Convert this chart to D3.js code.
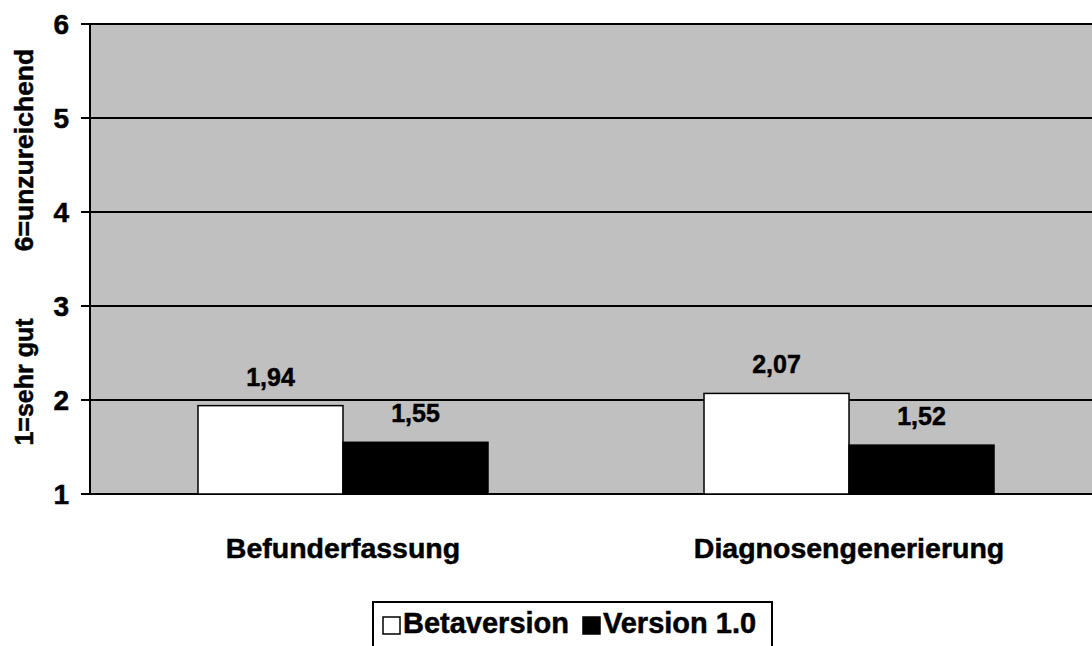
<!DOCTYPE html>
<html><head><meta charset="utf-8">
<script src="https://cdn.jsdelivr.net/npm/d3@7"></script>
<style>body{margin:0;background:#fff}svg{display:block;font-family:Arial,"Liberation Sans",sans-serif;font-weight:bold}
svg text{stroke:#000;stroke-width:0.5px;fill:#000}</style>
</head><body>
<script>
const categories = ["Befunderfassung", "Diagnosengenerierung"];
const seriesNames = ["Betaversion", "Version 1.0"];
const betaValues = [1.94, 2.07];
const v10Values = [1.55, 1.52];
const yTicks = [1, 2, 3, 4, 5, 6];
const valueLabels = [["1,94", "1,55"], ["2,07", "1,52"]];

const W = 1092, H = 646;
const svg = d3.select("body").append("svg").attr("width", W).attr("height", H);

const y = d3.scaleLinear().domain([1, 6]).range([494, 24]);
const x0 = d3.scaleBand().domain(categories).range([90, 1102]).paddingInner(0.4269).paddingOuter(0.2134);
const x1 = d3.scaleBand().domain(seriesNames).range([0, x0.bandwidth()]);
const fills = ["#ffffff", "#000000"];

// plot background
svg.append("rect").attr("x", 90).attr("y", y(6)).attr("width", 1102 - 90).attr("height", y(1) - y(6)).attr("fill", "#c0c0c0");

// gridlines + ticks
yTicks.forEach(t => {
  svg.append("line").attr("x1", 81).attr("x2", 1102).attr("y1", y(t)).attr("y2", y(t)).attr("stroke", "#000").attr("stroke-width", 2);
  svg.append("text").attr("x", 69).attr("y", y(t)).attr("dy", "0.36em").attr("text-anchor", "end").style("font-size", "28px").text(t);
});
svg.append("line").attr("x1", 90).attr("x2", 90).attr("y1", y(6) - 1).attr("y2", y(1) + 1).attr("stroke", "#000").attr("stroke-width", 2);

// bars
const data = categories.map((c, i) => ({c, vals: [betaValues[i], v10Values[i]], labels: valueLabels[i]}));
const g = svg.selectAll("g.cat").data(data).enter().append("g").attr("transform", d => `translate(${x0(d.c)},0)`);
g.each(function(d) {
  const sel = d3.select(this);
  d.vals.forEach((v, j) => {
    sel.append("rect").attr("x", x1(seriesNames[j])).attr("y", y(v)).attr("width", x1.bandwidth()).attr("height", y(1) - y(v))
      .attr("fill", fills[j]).attr("stroke", "#000").attr("stroke-width", 1.5);
    sel.append("text").attr("x", x1(seriesNames[j]) + x1.bandwidth() / 2).attr("y", y(v) - 20)
      .attr("text-anchor", "middle").style("font-size", "25px").text(d.labels[j]);
  });
  sel.append("text").attr("x", x0.bandwidth() / 2).attr("y", 558).attr("text-anchor", "middle").style("font-size", "28.5px").text(d.c);
});

// y titles
svg.append("text").attr("transform", "translate(33,150) rotate(-90)").attr("text-anchor", "middle").style("font-size", "26.5px").text("6=unzureichend");
svg.append("text").attr("transform", "translate(33,382) rotate(-90)").attr("text-anchor", "middle").style("font-size", "25px").text("1=sehr gut");

// legend
const leg = svg.append("g");
leg.append("rect").attr("x", 373).attr("y", 602).attr("width", 399).attr("height", 50).attr("fill", "#fff").attr("stroke", "#000").attr("stroke-width", 2);
const legX = [383, 583];
seriesNames.forEach((s, j) => {
  leg.append("rect").attr("x", legX[j]).attr("y", 617).attr("width", 17).attr("height", 17).attr("fill", fills[j]).attr("stroke", "#000").attr("stroke-width", 1.5);
  leg.append("text").attr("x", legX[j] + 20).attr("y", 633).style("font-size", "29px").text(s);
});
</script>
</body></html>
